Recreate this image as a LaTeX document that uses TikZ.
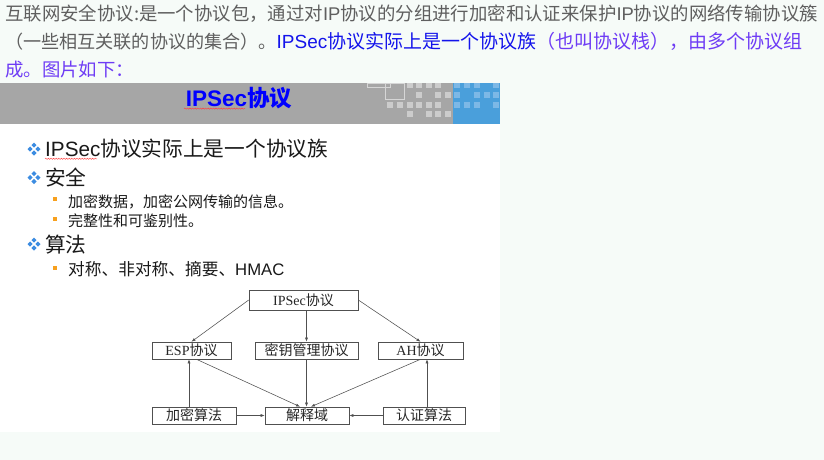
\documentclass[tikz,border=0pt]{standalone}
\usepackage{fontspec}
\setmainfont{Noto Sans CJK SC}
\newfontfamily\lsans{Liberation Sans}
\newfontfamily\lserif{Liberation Serif}
\usetikzlibrary{arrows.meta,decorations.pathmorphing}
\definecolor{pagebg}{RGB}{246,251,248}
\definecolor{txtgray}{RGB}{95,95,95}
\definecolor{txtblue}{RGB}{20,20,235}
\definecolor{txtpurple}{RGB}{110,60,245}
\definecolor{bargray}{RGB}{166,166,166}
\definecolor{sqgray}{RGB}{204,204,204}
\definecolor{barblue}{RGB}{74,159,219}
\definecolor{sqblue}{RGB}{125,184,230}
\definecolor{dblue}{RGB}{60,140,225}
\definecolor{orangeb}{RGB}{247,160,30}
\definecolor{linegray}{RGB}{80,80,80}
\tikzset{
  pline/.style={anchor=base west, inner sep=0pt, font=\fontsize{18.4}{20}\selectfont},
  bigitem/.style={anchor=base west, inner sep=0pt, text=black!90, font=\fontsize{20.7}{22}\selectfont},
  smallitem/.style={anchor=base west, inner sep=0pt, text=black!90, font=\fontsize{15}{16}\selectfont},
  miditem/.style={anchor=base west, inner sep=0pt, text=black!90, font=\fontsize{16.7}{18}\selectfont},
  dbox/.style={draw=linegray, line width=0.6pt, rectangle, inner sep=0pt, minimum height=17pt, text=black!85, font=\fontsize{14}{15}\selectfont},
  darrow/.style={draw=linegray, line width=0.55pt, -{Latex[length=4pt,width=3pt]}},
  wavy/.style={draw=red!75, line width=0.45pt, decorate, decoration={snake, amplitude=0.6pt, segment length=2.6pt}},
  dbul/.pic={
    \foreach \dx/\dy in {0/-3.9,0/3.9,-3.9/0,3.9/0}
      \fill[dblue] (\dx-2.6,\dy) -- (\dx,\dy-2.6) -- (\dx+2.6,\dy) -- (\dx,\dy+2.6) -- cycle;
  },
  obul/.pic={\fill[orangeb] (-2.2,-2.2) rectangle (2.2,2.2);}
}
\begin{document}
\begin{tikzpicture}[x=1pt,y=-1pt]
\useasboundingbox (0,0) rectangle (824,460);
\fill[pagebg] (0,0) rectangle (824,460);
% top paragraph
\node[pline, text=txtgray] (l1) at (5,20.5) {互联网安全协议:是一个协议包，通过对{\lsans IP}协议的分组进行加密和认证来保护{\lsans IP}协议的网络传输协议簇};
\node[pline] (l2) at (5,48.5) {{\fontsize{18.1}{20}\selectfont\color{txtgray}（一些相互关联的协议的集合）。}{\fontsize{19}{20}\selectfont\color{txtblue}{\lsans IPSec}协议实际上是一个协议族}{\fontsize{19}{20}\selectfont\color{txtpurple}（也叫协议栈），由多个协议组}};
\node[pline, text=txtpurple] (l3) at (5,76.5) {成。图片如下：};
% slide
\fill[white] (0,83) rectangle (500,432);
\fill[bargray] (0,83) rectangle (500,124);
\fill[barblue] (453,83) rectangle (500,124);
\foreach \x in {407,416,426,435} \fill[sqgray] (\x,83) rectangle (\x+5.5,87.5);
\foreach \x in {416,435,445} \fill[sqgray] (\x,92) rectangle (\x+5.5,97.5);
\foreach \x in {387,397,407,416,426,435} \fill[sqgray] (\x,102) rectangle (\x+5.5,107.5);
\foreach \x in {407,426,435,445} \fill[sqgray] (\x,111) rectangle (\x+5.5,116.5);
\foreach \x in {454,464,474,493} \fill[sqblue] (\x,83) rectangle (\x+5.5,87.5);
\foreach \x in {454,474,484,493} \fill[sqblue] (\x,92) rectangle (\x+5.5,97.5);
\foreach \x in {454,464,474,493} \fill[sqblue] (\x,102) rectangle (\x+5.5,107.5);
\draw[sqgray!80!white, line width=0.5pt] (385,83) rectangle (404,99);
\draw[sqgray!80!white, line width=0.5pt] (367,83) rectangle (390,87);
\node[anchor=base, inner sep=0pt, text=blue, font=\fontsize{22.5}{24}\selectfont\bfseries] (title) at (239,106.5) {{\lsans\bfseries IPSec}协议};
\draw[wavy] (184,108.6) -- (245,108.6);
% bullets
\pic at (34,149) {dbul};
\node[bigitem] (b1) at (45,156.5) {{\lsans IPSec}协议实际上是一个协议族};
\draw[wavy] (45,158.8) -- (97,158.8);
\pic at (34,177.5) {dbul};
\node[bigitem] (b2) at (45,185) {安全};
\pic at (55,199) {obul};
\node[smallitem] (s1) at (68,207.5) {加密数据，加密公网传输的信息。};
\pic at (55,219) {obul};
\node[smallitem] (s2) at (68,226.5) {完整性和可鉴别性。};
\pic at (34,244) {dbul};
\node[bigitem] (b3) at (45,252) {算法};
\pic at (55,268) {obul};
\node[miditem] (s3) at (68,275) {对称、非对称、摘要、{\lsans HMAC}};
% diagram
\node[dbox, minimum width=109pt, minimum height=20pt] (ipsec) at (303.5,300) {{\lserif IPSec}协议};
\node[dbox, minimum width=79pt] (esp) at (191.5,350.5) {{\lserif ESP}协议};
\node[dbox, minimum width=103pt] (key) at (306.5,350.5) {密钥管理协议};
\node[dbox, minimum width=85pt] (ah) at (420.5,350.5) {{\lserif AH}协议};
\node[dbox, minimum width=84pt] (enc) at (194,415.5) {加密算法};
\node[dbox, minimum width=84pt] (doi) at (307,415.5) {解释域};
\node[dbox, minimum width=82pt] (auth) at (424,415.5) {认证算法};
\draw[darrow] (ipsec.west) -- (esp.north);
\draw[darrow] (key.north |- ipsec.south) -- (key.north);
\draw[darrow] (ipsec.east) -- (ah.north);
\draw[darrow] ([xshift=5pt]esp.south) -- ([xshift=-7pt]doi.north);
\draw[darrow] (key.south) -- (key.south |- doi.north);
\draw[darrow] (ah.south) -- ([xshift=4pt]doi.north);
\draw[darrow] ([xshift=-5pt]enc.north) -- ([xshift=-5pt]enc.north |- esp.south);
\draw[darrow] ([xshift=3pt]auth.north) -- ([xshift=3pt]auth.north |- ah.south);
\draw[darrow] (enc.east) -- (doi.west);
\draw[darrow] (auth.west) -- (doi.east);
\end{tikzpicture}
\end{document}
